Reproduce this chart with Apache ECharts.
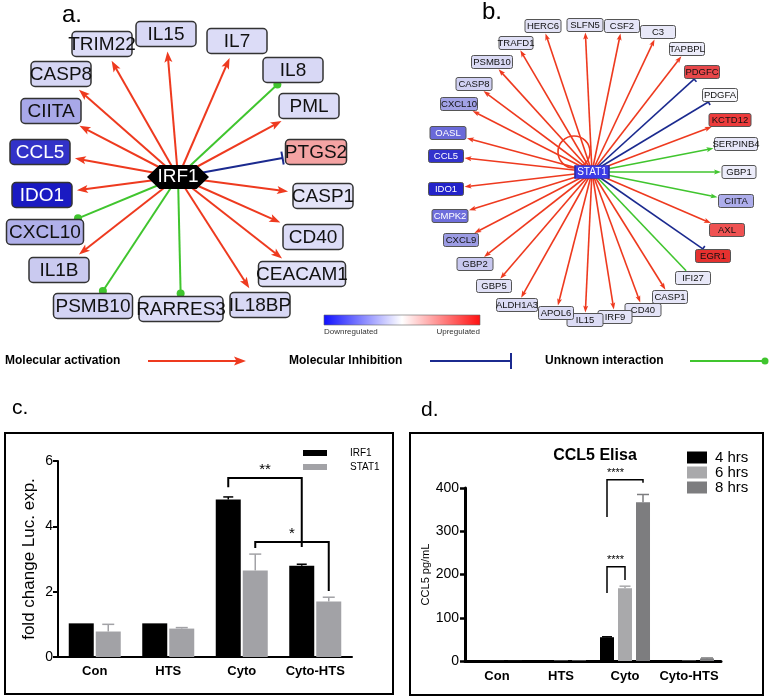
<!DOCTYPE html>
<html><head><meta charset="utf-8">
<script src="https://cdn.jsdelivr.net/npm/echarts@6/dist/echarts.min.js"></script>
<style>html,body{margin:0;padding:0;background:#fff}#main{width:770px;height:700px}</style>
</head><body><div id="main"></div><script>
const FONT = '"Liberation Sans", Arial, Helvetica, sans-serif';

// ---------------- Panel a: IRF1 network ----------------
const hubAName = 'IRF1';
const nodesA = ['TRIM22','IL15','IL7','IL8','PML','PTGS2','CASP1','CD40','CEACAM1','IL18BP','RARRES3','PSMB10','IL1B','CXCL10','IDO1','CCL5','CIITA','CASP8'];
const edgeTypesA = ['act','act','act','unk','act','inh','act','act','act','act','unk','unk','act','unk','act','act','act','act'];

// ---------------- Panel b: STAT1 network ----------------
const hubBName = 'STAT1';
const nodesB = ['HERC6','SLFN5','CSF2','C3','TAPBPL','PDGFC','PDGFA','KCTD12','SERPINB4','GBP1','CIITA','AXL','EGR1','IFI27','CASP1','CD40','IRF9','IL15','APOL6','ALDH1A3','GBP5','GBP2','CXCL9','CMPK2','IDO1','CCL5','OASL','CXCL10','CASP8','PSMB10','TRAFD1'];
const edgeTypesB = ['act','act','act','act','act','inh','inh','act','unkArrow','unkArrow','unkArrow','act','inh','plainGreen','act','act','act','act','act','act','act','act','act','act','act','act','act','act','act','act','act'];

// ---------------- Panel c: luciferase ----------------
const catsC = ['Con','HTS','Cyto','Cyto-HTS'];
const irf1Vals = [1.03, 1.03, 4.82, 2.79];
const irf1Err  = [0, 0, 0.08, 0.05];
const stat1Vals = [0.78, 0.87, 2.65, 1.70];
const stat1Err  = [0.22, 0.03, 0.50, 0.13];
const yTicksC = [0, 2, 4, 6];
// [cat, barIdx, legBottom, cat, barIdx, legBottom, top]
const sigC = [[2,0,5.20, 3,0,3.37, 5.48],[2,1,3.34, 3,1,2.02, 3.52]];
const sigCText = ['**','*'];

// ---------------- Panel d: CCL5 ELISA ----------------
const catsD = ['Con','HTS','Cyto','Cyto-HTS'];
const h4Vals = [0.3, 1, 55, 2];
const h6Vals = [0.3, 1, 168, 1];
const h8Vals = [0.3, 1.5, 367, 6];
const h4Err = [0, 0, 1, 0];
const h6Err = [0, 0, 5, 0];
const h8Err = [0, 0, 18, 1];
const yTicksD = [0, 100, 200, 300, 400];
const sigD = [[2,0,333, 2,2,412, 419],[2,0,157, 2,1,187, 218]];
const sigDText = ['****','****'];

// ---------------- layout (node centre x, centre y, box width) ----------------
const hubALayout = [178, 177, 62, 24];
const layoutA = {TRIM22:[102,44,60], IL15:[166,34,60], IL7:[237,41,60], IL8:[293,70,60], PML:[309,106,60], PTGS2:[316,152,61],
  CASP1:[323,196,60], CD40:[313,237,60], CEACAM1:[302,274,87], IL18BP:[260,305,60], RARRES3:[181,309,84], PSMB10:[93,306,79],
  IL1B:[59,270,60], CXCL10:[45,232,77], IDO1:[42,195,60], CCL5:[40,152,60], CIITA:[51,111,60], CASP8:[61,74,60]};
const hubBLayout = [592, 172, 34, 13];
const layoutB = {HERC6:[543,26,36], SLFN5:[585,25,36], CSF2:[622,26,35], C3:[658,32,35], TAPBPL:[687,49,35], PDGFC:[702,72,35],
  PDGFA:[720,95,35], KCTD12:[730,120,42], SERPINB4:[736,144,43], GBP1:[739,172,34], CIITA:[736,201,35], AXL:[727,230,35],
  EGR1:[713,256,35], IFI27:[693,278,35], CASP1:[670,297,35], CD40:[643,310,36], IRF9:[615,317,34], IL15:[585,320,36],
  APOL6:[556,313,35], ALDH1A3:[517,305,41], GBP5:[494,286,35], GBP2:[475,264,36], CXCL9:[461,240,35], CMPK2:[450,216,36],
  IDO1:[446,189,35], CCL5:[446,156,35], OASL:[448,133,36], CXCL10:[459,104,37], CASP8:[474,84,36], PSMB10:[492,62,41], TRAFD1:[516,43,34]};

// ---------------- styles ----------------
const fillA = {TRIM22:'#dcdcf7', IL15:'#d8d8f5', IL7:'#dcdcf7', IL8:'#d8d8f5', PML:'#dcdcf7', PTGS2:'#f4a3a3', CASP1:'#e4e4f8',
  CD40:'#dcdcf7', CEACAM1:'#e0e0f8', IL18BP:'#d8d8f5', RARRES3:'#dcdcf7', PSMB10:'#d4d4f4', IL1B:'#cacaf0', CXCL10:'#b0b0ea',
  IDO1:'#1a1ac2', CCL5:'#3232c8', CIITA:'#a8a8e8', CASP8:'#d6d6f4'};
const fillB = {HERC6:'#e2e2f6', SLFN5:'#e2e2f6', CSF2:'#e6e6f8', C3:'#e8e8f8', TAPBPL:'#ececfa', PDGFC:'#e8474a', PDGFA:'#f8f8fd',
  KCTD12:'#ec3b3b', SERPINB4:'#e6e6f8', GBP1:'#ececfa', CIITA:'#adadeb', AXL:'#ef5252', EGR1:'#e5312f', IFI27:'#e8e8f8',
  CASP1:'#e6e6f8', CD40:'#e4e4f7', IRF9:'#e4e4f7', IL15:'#dcdcf5', APOL6:'#dcdcf5', ALDH1A3:'#dcdcf5', GBP5:'#e0e0f6',
  GBP2:'#c8c8f0', CXCL9:'#9c9ce4', CMPK2:'#6e6edc', IDO1:'#2323c9', CCL5:'#3232cd', OASL:'#6a6ad9', CXCL10:'#a2a2e6',
  CASP8:'#d0d0f3', PSMB10:'#dadaf5', TRAFD1:'#e0e0f6'};
const whiteText = ['IDO1','CCL5','CMPK2','OASL'];
const EDGE_COLORS = {act:'#ee3a1f', inh:'#1b2a8f', unk:'#40c52e', unkArrow:'#40c52e', plainGreen:'#40c52e'};
const TYPES = ['act','inh','unk','unkArrow','plainGreen'];
const RED = '#ee3a1f';

function edgeSeries(hub, names, types, layout, st) {
  const data = names.map((n, i) => [hub[0], hub[1], layout[n][0], layout[n][1], layout[n][2], st.h, TYPES.indexOf(types[i])]);
  return {
    type: 'custom', coordinateSystem: 'cartesian2d', xAxisIndex: 0, yAxisIndex: 0, silent: true, z: 2, animation: false,
    data,
    renderItem(params, api) {
      const h0 = api.coord([api.value(0), api.value(1)]);
      const c = api.coord([api.value(2), api.value(3)]);
      const w = api.value(4), hh = api.value(5), t = TYPES[api.value(6)];
      const dx = c[0] - h0[0], dy = c[1] - h0[1];
      const len = Math.hypot(dx, dy), ux = dx / len, uy = dy / len, px = -uy, py = ux;
      const s = Math.min(w / 2 / Math.max(Math.abs(dx), 1e-6), hh / 2 / Math.max(Math.abs(dy), 1e-6));
      const bx = c[0] - s * dx, by = c[1] - s * dy;
      const col = EDGE_COLORS[t];
      const isArrow = (t === 'act' || t === 'unkArrow');
      const gap = isArrow ? st.gapArrow : st.gapEnd;
      const tx = bx - gap * ux, ty = by - gap * uy;
      const L = st.arrowLen, AW = st.arrowW;
      const children = [];
      let lx = tx, ly = ty;
      if (isArrow) { lx = tx - 0.7 * L * ux; ly = ty - 0.7 * L * uy; }
      children.push({type: 'line', shape: {x1: h0[0], y1: h0[1], x2: lx, y2: ly}, style: {stroke: col, lineWidth: st.lw}});
      if (isArrow) {
        children.push({type: 'polygon', shape: {points: [
          [tx, ty],
          [tx - L * ux + AW / 2 * px, ty - L * uy + AW / 2 * py],
          [tx - 0.78 * L * ux, ty - 0.78 * L * uy],
          [tx - L * ux - AW / 2 * px, ty - L * uy - AW / 2 * py]]}, style: {fill: col}});
      } else if (t === 'inh') {
        children.push({type: 'line', shape: {x1: tx + st.barLen / 2 * px, y1: ty + st.barLen / 2 * py, x2: tx - st.barLen / 2 * px, y2: ty - st.barLen / 2 * py}, style: {stroke: col, lineWidth: st.lw}});
      } else if (t === 'unk') {
        children.push({type: 'circle', shape: {cx: tx, cy: ty, r: st.dotR}, style: {fill: col}});
      }
      return {type: 'group', children};
    }
  };
}

function nodeSeries(names, layout, fills, st) {
  return {
    type: 'custom', coordinateSystem: 'cartesian2d', xAxisIndex: 0, yAxisIndex: 0, silent: true, z: 4, animation: false,
    data: names.map(n => [layout[n][0], layout[n][1], layout[n][2], st.h]),
    renderItem(params, api) {
      const n = names[params.dataIndex];
      const c = api.coord([api.value(0), api.value(1)]);
      const w = api.value(2), h = api.value(3);
      return {type: 'group', children: [
        {type: 'rect', shape: {x: c[0] - w / 2, y: c[1] - h / 2, width: w, height: h, r: st.r},
          style: {fill: fills[n], stroke: st.border, lineWidth: st.bw}},
        {type: 'text', x: c[0], y: c[1] + st.textDy, style: {text: n, fontSize: st.font, fontFamily: FONT,
          fill: whiteText.includes(n) ? '#fff' : '#111', align: 'center', verticalAlign: 'middle'}}
      ]};
    }
  };
}

const stA = {h: 25, lw: 2, arrowLen: 11, arrowW: 8, gapArrow: 5, gapEnd: 3, barLen: 13, dotR: 4, font: 19, border: '#333', bw: 1.5, r: 4, textDy: 1};
const stB = {h: 13, lw: 1.6, arrowLen: 7, arrowW: 5, gapArrow: 1, gapEnd: 1, barLen: 7, dotR: 2, font: 9.5, border: '#555', bw: 1, r: 2, textDy: 0.5};

function offsetOf(k, n, bw, gap) { return (k - (n - 1) / 2) * (bw + gap); }

function errorSeries(axisIdx, vals, errs, k, n, bw, gap, color, cap, lw) {
  return {
    type: 'custom', xAxisIndex: axisIdx, yAxisIndex: axisIdx, silent: true, z: 5, animation: false,
    data: vals.map((v, i) => [i, v, errs[i]]),
    renderItem(params, api) {
      const i = api.value(0), v = api.value(1), e = api.value(2);
      if (!e) return null;
      const a = api.coord([i, v]), b = api.coord([i, v + e]);
      const x = a[0] + offsetOf(k, n, bw, gap);
      return {type: 'group', children: [
        {type: 'line', shape: {x1: x, y1: a[1], x2: x, y2: b[1]}, style: {stroke: color, lineWidth: lw}},
        {type: 'line', shape: {x1: x - cap / 2, y1: b[1], x2: x + cap / 2, y2: b[1]}, style: {stroke: color, lineWidth: lw}}
      ]};
    }
  };
}

function sigSeries(axisIdx, rows, texts, n, bw, gap, lw, fontSize, align) {
  return {
    type: 'custom', xAxisIndex: axisIdx, yAxisIndex: axisIdx, silent: true, z: 6, animation: false,
    data: rows,
    renderItem(params, api) {
      const xa = api.coord([api.value(0), 0])[0] + offsetOf(api.value(1), n, bw, gap);
      const xb = api.coord([api.value(3), 0])[0] + offsetOf(api.value(4), n, bw, gap);
      const ya = api.coord([0, api.value(2)])[1], yb = api.coord([0, api.value(5)])[1], yt = api.coord([0, api.value(6)])[1];
      return {type: 'group', children: [
        {type: 'polyline', shape: {points: [[xa, ya], [xa, yt], [xb, yt], [xb, yb]]}, style: {stroke: '#000', lineWidth: lw, fill: null}},
        {type: 'text', x: align === 'center' ? (xa + xb) / 2 : xa, y: yt - 1,
          style: {text: texts[params.dataIndex], fontSize, fontFamily: FONT, fill: '#000', align, verticalAlign: 'bottom'}}
      ]};
    }
  };
}

// self loop on STAT1
const loopB = [[574, 152, 16]];

const series = [
  edgeSeries(hubALayout, nodesA, edgeTypesA, layoutA, stA),
  nodeSeries(nodesA, layoutA, fillA, stA),
  {type: 'scatter', xAxisIndex: 0, yAxisIndex: 0, silent: true, z: 5, animation: false,
    symbol: 'path://M0,6 L4,0 L16,0 L20,6 L16,12 L4,12 Z',
    data: [{name: hubAName, value: [hubALayout[0], hubALayout[1]], symbolSize: [hubALayout[2], hubALayout[3]]}],
    itemStyle: {color: '#000', opacity: 1},
    label: {show: true, position: 'inside', formatter: '{b}', color: '#fff', fontSize: 19, fontFamily: FONT}},
  {type: 'custom', xAxisIndex: 0, yAxisIndex: 0, silent: true, z: 2, animation: false, data: loopB,
    renderItem(params, api) {
      const c = api.coord([api.value(0), api.value(1)]);
      return {type: 'circle', shape: {cx: c[0], cy: c[1], r: api.value(2)}, style: {stroke: RED, lineWidth: 1.6, fill: null}};
    }},
  edgeSeries(hubBLayout, nodesB, edgeTypesB, layoutB, stB),
  nodeSeries(nodesB, layoutB, fillB, stB),
  {type: 'scatter', xAxisIndex: 0, yAxisIndex: 0, silent: true, z: 5, animation: false, symbol: 'rect',
    data: [{name: hubBName, value: [hubBLayout[0], hubBLayout[1]], symbolSize: [hubBLayout[2], hubBLayout[3]]}],
    itemStyle: {color: '#3b3be6', borderColor: '#2a2aa0', borderWidth: 1, opacity: 1},
    label: {show: true, position: 'inside', formatter: '{b}', color: '#fff', fontSize: 10, fontFamily: FONT}},

  // panel c
  {type: 'bar', name: 'IRF1', xAxisIndex: 1, yAxisIndex: 1, data: irf1Vals, barWidth: 25, barGap: '8%', itemStyle: {color: '#000'}, silent: true, animation: false},
  {type: 'bar', name: 'STAT1', xAxisIndex: 1, yAxisIndex: 1, data: stat1Vals, barWidth: 25, barGap: '8%', itemStyle: {color: '#a2a2a6'}, silent: true, animation: false},
  errorSeries(1, irf1Vals, irf1Err, 0, 2, 25, 2, '#000', 10, 1.5),
  errorSeries(1, stat1Vals, stat1Err, 1, 2, 25, 2, '#a2a2a6', 12, 1.5),
  sigSeries(1, sigC, sigCText, 2, 25, 2, 2, 15, 'center'),

  // panel d
  {type: 'bar', name: '4 hrs', xAxisIndex: 2, yAxisIndex: 2, data: h4Vals, barWidth: 14, barGap: '28.6%', itemStyle: {color: '#000'}, silent: true, animation: false},
  {type: 'bar', name: '6 hrs', xAxisIndex: 2, yAxisIndex: 2, data: h6Vals, barWidth: 14, barGap: '28.6%', itemStyle: {color: '#a9a9ab'}, silent: true, animation: false},
  {type: 'bar', name: '8 hrs', xAxisIndex: 2, yAxisIndex: 2, data: h8Vals, barWidth: 14, barGap: '28.6%', itemStyle: {color: '#7d7d7f'}, silent: true, animation: false},
  errorSeries(2, h4Vals, h4Err, 0, 3, 14, 4, '#000', 10, 1.5),
  errorSeries(2, h6Vals, h6Err, 1, 3, 14, 4, '#a9a9ab', 11, 1.5),
  errorSeries(2, h8Vals, h8Err, 2, 3, 14, 4, '#7d7d7f', 12, 1.5),
  sigSeries(2, sigD, sigDText, 3, 14, 4, 1.5, 11, 'left')
];

const axisTxt = {color: '#000', fontFamily: FONT};
const option = {
  backgroundColor: '#fff',
  animation: false,
  textStyle: {fontFamily: FONT},
  grid: [
    {left: 0, top: 0, width: 770, height: 700},
    {left: 58, top: 461, width: 294, height: 196},
    {left: 465, top: 488, width: 256, height: 173}
  ],
  xAxis: [
    {gridIndex: 0, type: 'value', min: 0, max: 770, show: false},
    {gridIndex: 1, type: 'category', data: catsC,
      axisLine: {lineStyle: {color: '#000', width: 2}},
      axisTick: {alignWithLabel: true, length: 5, lineStyle: {color: '#000', width: 2}},
      axisLabel: Object.assign({fontSize: 13, fontWeight: 'bold', margin: 8, interval: 0}, axisTxt)},
    {gridIndex: 2, type: 'category', data: catsD,
      axisLine: {lineStyle: {color: '#000', width: 3}},
      axisTick: {alignWithLabel: true, length: 5, lineStyle: {color: '#000', width: 2.5}},
      axisLabel: Object.assign({fontSize: 13, fontWeight: 'bold', margin: 9, interval: 0}, axisTxt)}
  ],
  yAxis: [
    {gridIndex: 0, type: 'value', min: 0, max: 700, inverse: true, show: false},
    {gridIndex: 1, type: 'value', min: yTicksC[0], max: yTicksC[yTicksC.length - 1], interval: 2,
      axisLine: {show: true, lineStyle: {color: '#000', width: 2}},
      axisTick: {show: true, length: 5, lineStyle: {color: '#000', width: 2}},
      splitLine: {show: false},
      axisLabel: Object.assign({fontSize: 14, margin: 5}, axisTxt),
      name: 'fold change Luc. exp.', nameLocation: 'middle', nameGap: 20, nameRotate: 90,
      nameTextStyle: {fontSize: 17, color: '#000', fontFamily: FONT}},
    {gridIndex: 2, type: 'value', min: yTicksD[0], max: yTicksD[yTicksD.length - 1], interval: 100,
      axisLine: {show: true, lineStyle: {color: '#000', width: 3}},
      axisTick: {show: true, length: 5, lineStyle: {color: '#000', width: 2.5}},
      splitLine: {show: false},
      axisLabel: Object.assign({fontSize: 14, margin: 6}, axisTxt),
      name: 'CCL5 pg/mL', nameLocation: 'middle', nameGap: 25, nameRotate: 90,
      nameTextStyle: {fontSize: 11, color: '#000', fontFamily: FONT}}
  ],
  legend: [
    {data: ['IRF1', 'STAT1'], orient: 'vertical', left: 298, top: 443, itemWidth: 24, itemHeight: 6, itemGap: 4, icon: 'rect',
      selectedMode: false, textStyle: {fontSize: 10, color: '#000', fontFamily: FONT, padding: [0, 0, 0, 18]}},
    {data: ['4 hrs', '6 hrs', '8 hrs'], orient: 'vertical', left: 682, top: 445, itemWidth: 20, itemHeight: 12, itemGap: 0, icon: 'rect',
      selectedMode: false, textStyle: {fontSize: 15, lineHeight: 14, color: '#000', fontFamily: FONT, padding: [0, 0, 0, 3]}}
  ],
  graphic: [
    {type: 'text', left: 62, top: 3, style: {text: 'a.', fontSize: 24, fontFamily: FONT, fill: '#000'}},
    {type: 'text', left: 482, top: 0, style: {text: 'b.', fontSize: 24, fontFamily: FONT, fill: '#000'}},
    {type: 'text', left: 12, top: 398, style: {text: 'c.', fontSize: 21, fontFamily: FONT, fill: '#000'}},
    {type: 'text', left: 421, top: 400, style: {text: 'd.', fontSize: 21, fontFamily: FONT, fill: '#000'}},
    // colour bar
    {type: 'rect', shape: {x: 324, y: 315, width: 156, height: 10}, style: {
      fill: new echarts.graphic.LinearGradient(0, 0, 1, 0, [{offset: 0, color: '#1010ff'}, {offset: 0.5, color: '#ffffff'}, {offset: 1, color: '#ff1010'}]),
      stroke: '#666', lineWidth: 0.6}},
    {type: 'text', x: 324, y: 328, style: {text: 'Downregulated', fontSize: 8, fontFamily: FONT, fill: '#333'}},
    {type: 'text', x: 480, y: 328, style: {text: 'Upregulated', fontSize: 8, fontFamily: FONT, fill: '#333', align: 'right'}},
    // interaction legend
    {type: 'text', x: 5, y: 361, style: {text: 'Molecular activation', fontSize: 12, fontWeight: 'bold', fontFamily: FONT, fill: '#000', verticalAlign: 'middle'}},
    {type: 'line', shape: {x1: 148, y1: 361, x2: 238, y2: 361}, style: {stroke: RED, lineWidth: 2}},
    {type: 'polygon', shape: {points: [[246, 361], [234, 356.5], [236.5, 361], [234, 365.5]]}, style: {fill: RED}},
    {type: 'text', x: 289, y: 361, style: {text: 'Molecular Inhibition', fontSize: 12, fontWeight: 'bold', fontFamily: FONT, fill: '#000', verticalAlign: 'middle'}},
    {type: 'line', shape: {x1: 430, y1: 361, x2: 511, y2: 361}, style: {stroke: '#1b2a8f', lineWidth: 2}},
    {type: 'line', shape: {x1: 511, y1: 353, x2: 511, y2: 369}, style: {stroke: '#1b2a8f', lineWidth: 2}},
    {type: 'text', x: 545, y: 361, style: {text: 'Unknown interaction', fontSize: 12, fontWeight: 'bold', fontFamily: FONT, fill: '#000', verticalAlign: 'middle'}},
    {type: 'line', shape: {x1: 690, y1: 361, x2: 765, y2: 361}, style: {stroke: '#40c52e', lineWidth: 2}},
    {type: 'circle', shape: {cx: 765, cy: 361, r: 3.5}, style: {fill: '#40c52e'}},
    // panel frames
    {type: 'rect', shape: {x: 5, y: 433, width: 388, height: 261}, style: {fill: null, stroke: '#000', lineWidth: 2}},
    {type: 'rect', shape: {x: 410, y: 433, width: 353, height: 262}, style: {fill: null, stroke: '#000', lineWidth: 2}},
    {type: 'text', x: 595, y: 456, style: {text: 'CCL5 Elisa', fontSize: 16, fontWeight: 'bold', fontFamily: FONT, fill: '#000', align: 'center', verticalAlign: 'middle'}}
  ],
  series
};

const chart = echarts.init(document.getElementById('main'), null, {width: 770, height: 700});
chart.setOption(option);
</script></body></html>
